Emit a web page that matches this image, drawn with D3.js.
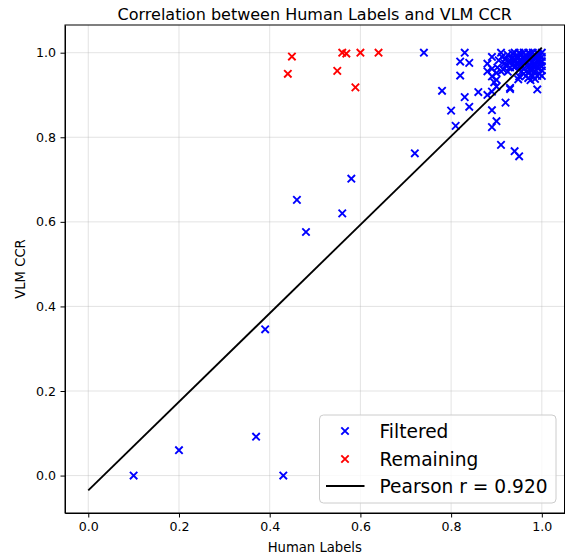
<!DOCTYPE html>
<html>
<head>
<meta charset="utf-8">
<script src="https://cdn.jsdelivr.net/npm/d3@7"></script>
<style>
  body { margin: 0; background: #fff; }
  svg { font-family: "DejaVu Sans", sans-serif; }
</style>
</head>
<body>
<svg id="chart" width="565" height="554"></svg>
<script>
// filtered samples (blue)
const filteredHuman = [
  0.10, 0.20, 0.37, 0.43, 0.39, 0.48, 0.46, 0.56, 0.58, 0.72, 0.74, 0.78, 0.80, 0.81,
  0.82, 0.82, 0.83, 0.83, 0.84, 0.84, 0.86, 0.88, 0.89, 0.90, 0.93, 0.99, 0.92, 0.89,
  0.90, 0.89, 0.91, 0.94, 0.95, 0.97, 0.948,
  0.89, 0.91, 0.88, 0.88, 0.89, 0.90, 0.89, 0.91, 0.90, 0.92, 0.93, 0.935, 0.93, 0.95,
  0.97, 0.985, 0.99,
  0.94, 0.95, 0.96, 0.97, 0.98, 0.99, 1.0, 0.955, 0.965, 0.975, 0.985, 0.995, 1.0,
  0.94, 0.95, 0.96, 0.97, 0.98, 0.99, 1.0, 0.945, 0.955, 0.965, 0.975, 0.985, 0.995,
  1.0, 0.94, 0.96, 0.97, 0.98, 0.99, 1.0, 0.95, 0.92, 0.925, 0.93, 0.915, 0.96, 0.98,
  0.975, 0.995, 1.0,
  0.935, 0.945, 0.952, 0.962, 0.972, 0.982, 0.992, 0.938, 0.948, 0.958, 0.968, 0.978,
  0.988, 0.998, 0.93, 0.942, 0.953, 0.963, 0.973, 0.983, 0.993, 0.905, 0.912, 0.918,
  0.895, 0.902, 0.925, 0.955, 0.965, 0.985, 0.95, 0.975
];
const filteredVlm = [
  0.0, 0.06, 0.092, 0.0, 0.346, 0.576, 0.652, 0.62, 0.702, 0.762, 1.0, 0.91, 0.863, 0.827,
  0.946, 0.979, 0.895, 1.0, 0.872, 0.976, 0.907, 0.90, 0.908, 0.92, 0.914, 0.913, 0.882, 0.864,
  0.838, 0.824, 0.782, 0.767, 0.755, 0.94, 0.937,
  0.99, 1.0, 0.974, 0.956, 0.962, 0.952, 0.944, 0.956, 0.936, 0.97, 0.976, 0.987, 0.917, 0.944,
  0.952, 0.956, 0.945,
  1.0, 1.0, 1.0, 1.0, 1.0, 1.0, 1.0, 0.995, 0.993, 0.996, 0.994, 0.992, 0.99,
  0.985, 0.982, 0.988, 0.984, 0.986, 0.983, 0.98, 0.975, 0.972, 0.977, 0.97, 0.974, 0.971,
  0.968, 0.965, 0.962, 0.966, 0.96, 0.964, 0.958, 0.96, 0.985, 0.995, 0.965, 0.96, 0.95, 0.945,
  0.935, 0.95, 0.945,
  0.998, 0.991, 0.997, 0.989, 0.998, 0.99, 0.997, 0.979, 0.988, 0.979, 0.99, 0.978,
  0.989, 0.978, 0.982, 0.969, 0.979, 0.983, 0.962, 0.967, 0.98, 0.982, 0.99, 0.975,
  0.93, 0.965, 0.955, 0.955, 0.945, 0.938, 0.968, 0.958
];
// remaining samples (red)
const remainingHuman = [0.449, 0.44, 0.56, 0.569, 0.60, 0.64, 0.549, 0.589];
const remainingVlm = [0.991, 0.95, 1.0, 0.998, 1.0, 1.0, 0.957, 0.918];

// fitted line
const fitX = [0.0, 1.0];
const fitY = [-0.035, 1.012];

const xTicks = [0.0, 0.2, 0.4, 0.6, 0.8, 1.0];
const yTicks = [0.0, 0.2, 0.4, 0.6, 0.8, 1.0];
const legendLabels = ["Filtered", "Remaining", "Pearson r = 0.920"];

const svg = d3.select("#chart");
const margin = { top: 25, right: 0.5, bottom: 41, left: 65 };
const width = 565, height = 554;

const x = d3.scaleLinear().domain([-0.0513, 1.05]).range([margin.left, width - margin.right]);
const y = d3.scaleLinear().domain([-0.0885, 1.0655]).range([height - margin.bottom, margin.top]);

// grid
const grid = svg.append("g").attr("stroke", "#b0b0b0").attr("stroke-opacity", 0.45).attr("stroke-width", 0.8);
grid.selectAll(".gx").data(xTicks).join("line")
  .attr("x1", d => x(d)).attr("x2", d => x(d))
  .attr("y1", y.range()[0]).attr("y2", y.range()[1]);
grid.selectAll(".gy").data(yTicks).join("line")
  .attr("y1", d => y(d)).attr("y2", d => y(d))
  .attr("x1", x.range()[0]).attr("x2", x.range()[1]);

// axes
const fmt = d3.format(".1f");
const xAxis = g => g.attr("transform", `translate(0,${height - margin.bottom})`)
  .call(d3.axisBottom(x).tickValues(xTicks).tickFormat(fmt).tickSize(4.5).tickPadding(4.5).tickSizeOuter(0));
const yAxis = g => g.attr("transform", `translate(${margin.left},0)`)
  .call(d3.axisLeft(y).tickValues(yTicks).tickFormat(fmt).tickSize(4.5).tickPadding(4.5).tickSizeOuter(0));

svg.append("g").call(xAxis)
  .call(g => g.selectAll("text").attr("font-size", 12.6).attr("fill", "#000").attr("font-family", "DejaVu Sans"))
  .call(g => g.selectAll("line").attr("stroke", "#000"));
svg.append("g").call(yAxis)
  .call(g => g.selectAll("text").attr("font-size", 12.6).attr("fill", "#000").attr("font-family", "DejaVu Sans"))
  .call(g => g.selectAll("line").attr("stroke", "#000"));

// spines
svg.append("rect")
  .attr("x", x.range()[0]).attr("y", y.range()[1])
  .attr("width", x.range()[1] - x.range()[0]).attr("height", y.range()[0] - y.range()[1])
  .attr("fill", "none").attr("stroke", "#000").attr("stroke-width", 1);

// x marker path
const mark = (cx, cy, r) => `M${cx - r},${cy - r}L${cx + r},${cy + r}M${cx - r},${cy + r}L${cx + r},${cy - r}`;

const plot = svg.append("g");
const filtered = filteredHuman.map((h, i) => ({ h, v: filteredVlm[i] }));
const remaining = remainingHuman.map((h, i) => ({ h, v: remainingVlm[i] }));

plot.selectAll(".f").data(filtered).join("path")
  .attr("d", d => mark(x(d.h), y(d.v), 3.7))
  .attr("stroke", "#0000ff").attr("stroke-width", 1.9).attr("fill", "none");
plot.selectAll(".r").data(remaining).join("path")
  .attr("d", d => mark(x(d.h), y(d.v), 3.7))
  .attr("stroke", "#ff0000").attr("stroke-width", 1.9).attr("fill", "none");

// fit line
plot.append("path")
  .datum(fitX.map((d, i) => [d, fitY[i]]))
  .attr("fill", "none").attr("stroke", "#000").attr("stroke-width", 1.85)
  .attr("d", d3.line().x(d => x(d[0])).y(d => y(d[1])));

// legend
const lg = svg.append("g");
lg.append("rect")
  .attr("x", 319.5).attr("y", 415).attr("width", 236.5).attr("height", 88)
  .attr("rx", 4).attr("fill", "#fff").attr("fill-opacity", 0.8)
  .attr("stroke", "#cccccc").attr("stroke-width", 1);
const rows = [431, 459, 486];
const colors = ["#0000ff", "#ff0000"];
colors.forEach((c, i) => {
  lg.append("path").attr("d", mark(345, rows[i], 3.7))
    .attr("stroke", c).attr("stroke-width", 1.9).attr("fill", "none");
});
lg.append("line").attr("x1", 326).attr("x2", 364.5).attr("y1", rows[2]).attr("y2", rows[2])
  .attr("stroke", "#000").attr("stroke-width", 1.85);
lg.selectAll("text.leg").data(legendLabels).join("text")
  .attr("x", 379.5).attr("y", (d, i) => rows[i]).attr("dy", "0.36em")
  .attr("font-size", 18.6).attr("fill", "#000").text(d => d);

// title & labels
svg.append("text").attr("x", (x.range()[0] + x.range()[1]) / 2).attr("y", 19.5)
  .attr("text-anchor", "middle").attr("font-size", 16).text("Correlation between Human Labels and VLM CCR");
svg.append("text").attr("x", (x.range()[0] + x.range()[1]) / 2).attr("y", 551.5)
  .attr("text-anchor", "middle").attr("font-size", 13.2).text("Human Labels");
svg.append("text")
  .attr("transform", `translate(24.5,${(y.range()[0] + y.range()[1]) / 2}) rotate(-90)`)
  .attr("text-anchor", "middle").attr("font-size", 13.2).text("VLM CCR");
</script>
</body>
</html>
